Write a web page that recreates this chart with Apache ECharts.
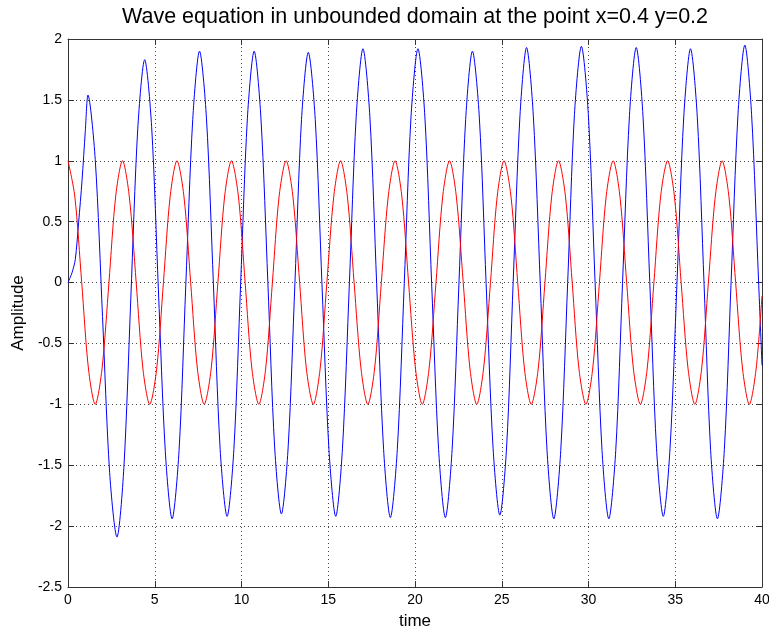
<!DOCTYPE html>
<html>
<head>
<meta charset="utf-8">
<script src="https://cdn.jsdelivr.net/npm/echarts@6/dist/echarts.min.js"></script>
<style>
	html, body { margin: 0; padding: 0; background: #fff; }
	#chart-container { width: 769px; height: 629px; }
</style>
</head>
<body>
<div id="chart-container"></div>
<script>
const titleText = 'Wave equation in unbounded domain at the point x=0.4 y=0.2';

// source term (red) at 1/8-period steps
const redT = [0, 0.39, 0.79, 1.18, 1.57, 1.96, 2.36, 2.75, 3.14, 3.53, 3.93, 4.32, 4.71, 5.11, 5.50, 5.89,
	6.28, 6.68, 7.07, 7.46, 7.85, 8.25, 8.64, 9.03, 9.42, 9.82, 10.21, 10.60, 11.00, 11.39, 11.78, 12.17,
	12.57, 12.96, 13.35, 13.74, 14.14, 14.53, 14.92, 15.32, 15.71, 16.10, 16.49, 16.89, 17.28, 17.67, 18.06, 18.46,
	18.85, 19.24, 19.63, 20.03, 20.42, 20.81, 21.21, 21.60, 21.99, 22.38, 22.78, 23.17, 23.56, 23.95, 24.35, 24.74,
	25.13, 25.53, 25.92, 26.31, 26.70, 27.10, 27.49, 27.88, 28.27, 28.67, 29.06, 29.45, 29.85, 30.24, 30.63, 31.02,
	31.42, 31.81, 32.20, 32.59, 32.99, 33.38, 33.77, 34.16, 34.56, 34.95, 35.34, 35.74, 36.13, 36.52, 36.91, 37.31,
	37.70, 38.09, 38.48, 38.88, 39.27, 39.66, 40];
const redY = [1, 0.71, 0, -0.71, -1, -0.71, 0, 0.71, 1, 0.71, 0, -0.71, -1, -0.71, 0, 0.71,
	1, 0.71, 0, -0.71, -1, -0.71, 0, 0.71, 1, 0.71, 0, -0.71, -1, -0.71, 0, 0.71,
	1, 0.71, 0, -0.71, -1, -0.71, 0, 0.71, 1, 0.71, 0, -0.71, -1, -0.71, 0, 0.71,
	1, 0.71, 0, -0.71, -1, -0.71, 0, 0.71, 1, 0.71, 0, -0.71, -1, -0.71, 0, 0.71,
	1, 0.71, 0, -0.71, -1, -0.71, 0, 0.71, 1, 0.71, 0, -0.71, -1, -0.71, 0, 0.71,
	1, 0.71, 0, -0.71, -1, -0.71, 0, 0.71, 1, 0.71, 0, -0.71, -1, -0.71, 0, 0.71,
	1, 0.71, 0, -0.71, -1, -0.71, -0.11];

// solution at the point (blue)
const blueT = [0, 0.23, 0.42, 0.61, 0.81, 1.00, 1.15,
	1.57, 1.99, 2.40, 2.82, 3.22, 3.62, 4.02, 4.42,
	4.82, 5.21, 5.61, 6.00, 6.40, 6.79, 7.19, 7.58,
	7.98, 8.38, 8.77, 9.17, 9.56, 9.95, 10.34, 10.73,
	11.12, 11.52, 11.91, 12.30, 12.69, 13.08, 13.46, 13.85,
	14.25, 14.64, 15.04, 15.43, 15.82, 16.22, 16.61, 17.00,
	17.40, 17.79, 18.19, 18.58, 18.98, 19.38, 19.77, 20.17,
	20.57, 20.96, 21.36, 21.75, 22.14, 22.53, 22.92, 23.31,
	23.71, 24.10, 24.50, 24.89, 25.28, 25.66, 26.05, 26.43,
	26.82, 27.22, 27.61, 28.00, 28.40, 28.80, 29.19, 29.59,
	29.99, 30.38, 30.78, 31.17, 31.57, 31.96, 32.36, 32.75,
	33.14, 33.53, 33.92, 34.31, 34.70, 35.10, 35.49, 35.88,
	36.27, 36.66, 37.04, 37.43, 37.83, 38.22, 38.62, 39.01,
	39.40, 39.80, 40];
const blueY = [0, 0.08, 0.19, 0.49, 0.84, 1.25, 1.54,
	1.01, -0.28, -1.56, -2.09, -1.52, -0.13, 1.26, 1.83,
	1.28, -0.06, -1.39, -1.94, -1.38, -0.02, 1.34, 1.90,
	1.35, -0.01, -1.37, -1.92, -1.37, -0.01, 1.35, 1.90,
	1.35, 0, -1.35, -1.90, -1.35, 0, 1.34, 1.89,
	1.34, -0.02, -1.37, -1.92, -1.36, 0, 1.36, 1.92,
	1.36, -0.01, -1.37, -1.93, -1.37, -0.01, 1.36, 1.92,
	1.36, -0.01, -1.37, -1.93, -1.37, -0.02, 1.34, 1.90,
	1.35, -0.01, -1.36, -1.91, -1.35, 0.01, 1.37, 1.93,
	1.37, -0.01, -1.38, -1.94, -1.38, 0, 1.38, 1.94,
	1.38, 0, -1.38, -1.94, -1.38, -0.01, 1.37, 1.93,
	1.37, 0.01, -1.36, -1.92, -1.36, 0, 1.36, 1.92,
	1.36, -0.01, -1.38, -1.94, -1.37, 0.01, 1.39, 1.95,
	1.38, 0.02, -0.68];

const font = 'Liberation Sans, Arial, sans-serif';
const axisColor = '#333';

const zip = (xs, ys) => xs.map((x, i) => [x, ys[i]]);

const chart = echarts.init(document.getElementById('chart-container'), null, {renderer: 'canvas'});

const boxAxis = {
	axisLine: {show: true, onZero: false, lineStyle: {color: axisColor, width: 1}},
	axisTick: {show: true, inside: true, length: 6, lineStyle: {color: axisColor}},
	axisLabel: {show: false},
	splitLine: {show: false},
};

chart.setOption({
	animation: false,
	backgroundColor: '#fff',
	textStyle: {fontFamily: font},
	title: {
		text: titleText,
		left: 415,
		top: 6,
		padding: 0,
		textAlign: 'center',
		textStyle: {fontFamily: font, fontSize: 21.5, fontWeight: 'normal', color: '#000'},
	},
	grid: {left: 68, right: 7, top: 39, bottom: 42, containLabel: false, outerBoundsMode: 'none'},
	xAxis: [
		{
			type: 'value',
			min: 0,
			max: 40,
			interval: 5,
			name: 'time',
			nameLocation: 'middle',
			nameGap: 26,
			nameTextStyle: {fontFamily: font, fontSize: 17, color: '#000'},
			axisLine: {show: true, onZero: false, lineStyle: {color: axisColor, width: 1}},
			axisTick: {show: true, inside: true, length: 6, lineStyle: {color: axisColor}},
			axisLabel: {fontFamily: font, fontSize: 14, color: '#000', margin: 6},
			splitLine: {show: true, lineStyle: {color: '#444', type: [1, 3], width: 1}},
		},
		Object.assign({type: 'value', position: 'top', min: 0, max: 40, interval: 5}, boxAxis),
	],
	yAxis: [
		{
			type: 'value',
			min: -2.5,
			max: 2,
			interval: 0.5,
			name: 'Amplitude',
			nameLocation: 'middle',
			nameGap: 34,
			nameTextStyle: {fontFamily: font, fontSize: 17, color: '#000'},
			axisLine: {show: true, onZero: false, lineStyle: {color: axisColor, width: 1}},
			axisTick: {show: true, inside: true, length: 6, lineStyle: {color: axisColor}},
			axisLabel: {fontFamily: font, fontSize: 14, color: '#000', margin: 6},
			splitLine: {show: true, lineStyle: {color: '#444', type: [1, 3], width: 1}},
		},
		Object.assign({type: 'value', position: 'right', min: -2.5, max: 2, interval: 0.5}, boxAxis),
	],
	series: [
		{
			name: 'solution',
			type: 'line',
			data: zip(blueT, blueY),
			symbol: 'none',
			smooth: 0.3,
			lineStyle: {color: '#0000ff', width: 1},
		},
		{
			name: 'source',
			type: 'line',
			data: zip(redT, redY),
			symbol: 'none',
			smooth: 0.3,
			lineStyle: {color: '#ff0000', width: 1},
		},
	],
});
</script>
</body>
</html>
